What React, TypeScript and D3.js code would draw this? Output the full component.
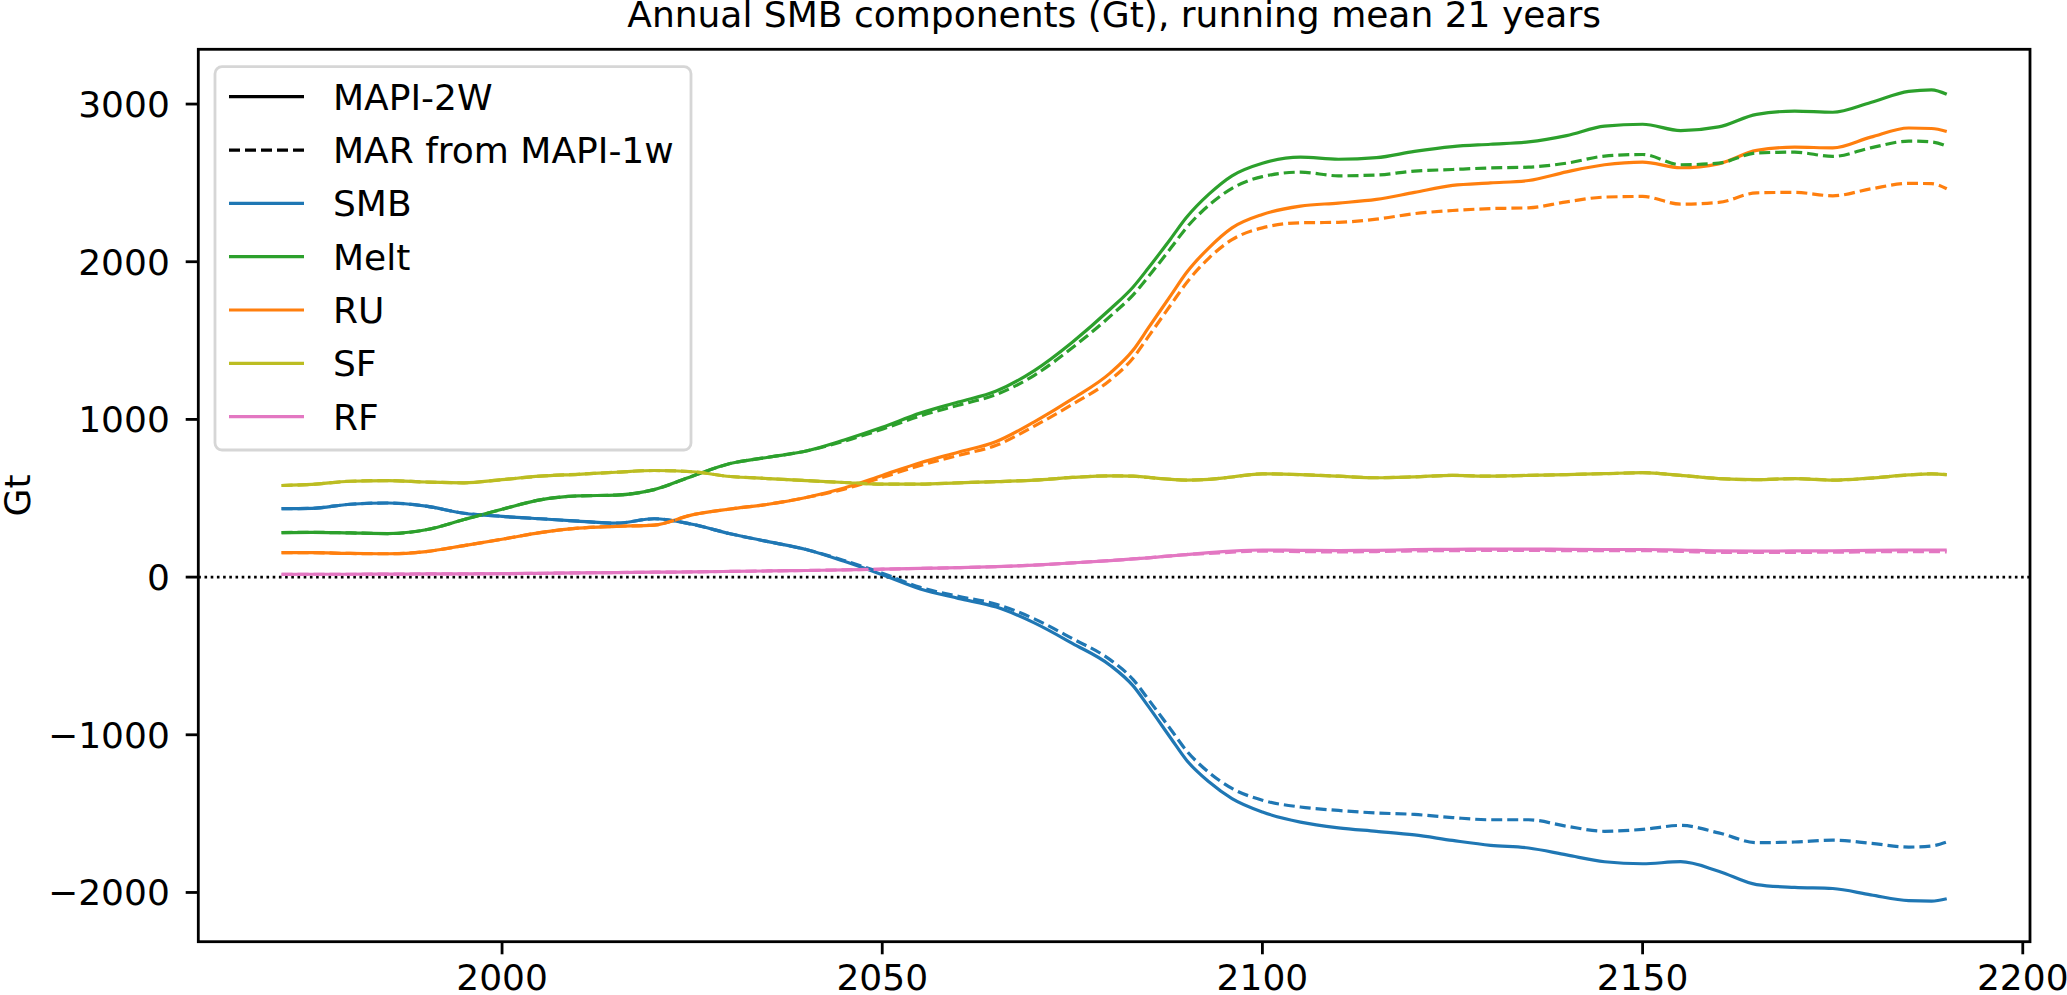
import { useEffect, useRef } from "react";
import * as d3 from "d3";

// years of the 21-year running mean
const years = [
    1971, 1975, 1980, 1985, 1990, 1995, 2000, 2005, 2010, 2015, 2020, 2025,
    2030, 2035, 2040, 2045, 2050, 2055, 2060, 2065, 2070, 2075, 2080, 2083,
    2085, 2088, 2090, 2093, 2096, 2100, 2105, 2110, 2115, 2120, 2125, 2130,
    2135, 2140, 2145, 2150, 2155, 2160, 2165, 2170, 2175, 2180, 2185, 2188,
    2190,
];

// MAPI-2W (solid)
const smb2w = [
    434, 436, 462, 470, 450, 405, 385, 370, 355, 342, 370, 335, 275, 225, 175,
    100, 15, -75, -135, -190, -290, -420, -560, -690, -820, -1025, -1160, -1300,
    -1405, -1490, -1554, -1590, -1612, -1635, -1670, -1701, -1718, -1762, -1805,
    -1818, -1805, -1865, -1950, -1968, -1975, -2015, -2052, -2055, -2040,
];
const melt2w = [
    282, 284, 280, 276, 300, 365, 430, 490, 515, 520, 555, 640, 720, 760, 800,
    870, 950, 1040, 1110, 1180, 1310, 1490, 1700, 1840, 1960, 2150, 2280, 2430,
    2545, 2625, 2663, 2650, 2660, 2700, 2730, 2745, 2760, 2800, 2860, 2872, 2832,
    2855, 2935, 2955, 2948, 3010, 3080, 3090, 3062,
];
const ru2w = [
    155, 155, 150, 148, 162, 200, 240, 282, 310, 322, 330, 395, 432, 462, 505,
    565, 645, 725, 792, 860, 985, 1130, 1295, 1440, 1580, 1790, 1930, 2090, 2215,
    2300, 2353, 2372, 2395, 2440, 2484, 2500, 2515, 2570, 2615, 2632, 2596, 2621,
    2706, 2727, 2722, 2790, 2848, 2845, 2826,
];
const sf2w = [
    581, 588, 608, 612, 603, 598, 618, 640, 652, 665, 676, 668, 638, 625, 612,
    600, 590, 590, 598, 605, 615, 632, 642, 640, 632, 620, 615, 620, 635, 655,
    650, 640, 630, 636, 645, 640, 645, 650, 656, 662, 645, 625, 618, 625, 615,
    628, 648, 655, 650,
];
const rf2w = [
    17, 18, 18, 19, 20, 21, 22, 24, 27, 29, 31, 33, 36, 39, 42, 46, 50, 55, 60,
    66, 76, 90, 105, 115, 122, 135, 143, 155, 165, 172, 170, 168, 170, 174, 176,
    178, 178, 176, 175, 175, 172, 166, 165, 166, 167, 170, 172, 172, 172,
];

// MAR from MAPI-1w (dashed)
const smb1w = [
    434, 436, 462, 470, 450, 405, 385, 370, 355, 342, 370, 335, 275, 225, 175,
    105, 25, -65, -122, -172, -265, -390, -525, -650, -775, -970, -1100, -1240,
    -1340, -1415, -1458, -1480, -1496, -1505, -1525, -1539, -1539, -1580, -1612,
    -1600, -1575, -1622, -1684, -1680, -1668, -1688, -1712, -1705, -1680,
];
const melt1w = [
    282, 284, 280, 276, 300, 365, 430, 490, 515, 520, 555, 640, 720, 760, 800,
    862, 938, 1022, 1090, 1158, 1280, 1455, 1655, 1790, 1905, 2090, 2215, 2360,
    2465, 2540, 2568, 2545, 2550, 2575, 2585, 2595, 2600, 2625, 2670, 2680, 2615,
    2625, 2690, 2695, 2668, 2722, 2765, 2760, 2733,
];
const ru1w = [
    155, 155, 150, 148, 162, 200, 240, 282, 310, 322, 330, 395, 432, 462, 505,
    558, 632, 708, 772, 836, 958, 1095, 1250, 1390, 1525, 1730, 1865, 2025, 2140,
    2215, 2247, 2250, 2270, 2305, 2325, 2337, 2342, 2380, 2410, 2414, 2365, 2376,
    2437, 2440, 2418, 2462, 2497, 2495, 2463,
];
const sf1w = sf2w;
const rf1w = [
    17, 18, 18, 19, 20, 21, 22, 24, 27, 29, 31, 33, 36, 39, 42, 46, 50, 55, 60,
    66, 76, 90, 105, 115, 122, 135, 143, 150, 158, 165, 162, 160, 162, 166, 168,
    170, 170, 168, 168, 168, 163, 157, 156, 157, 158, 160, 162, 162, 160,
];

const componentNames = ["SMB", "Melt", "RU", "SF", "RF"];
const solidValues = [smb2w, melt2w, ru2w, sf2w, rf2w];
const dashedValues = [smb1w, melt1w, ru1w, sf1w, rf1w];
const componentColors = ["#1f77b4", "#2ca02c", "#ff7f0e", "#bcbd22", "#e377c2"];

const xTicks = [2000, 2050, 2100, 2150, 2200];
const yTicks = [-2000, -1000, 0, 1000, 2000, 3000];

const fmt = (v: number) => (v < 0 ? "\u2212" + Math.abs(v) : String(v));

export default function App() {
    const svgRef = useRef<SVGSVGElement>(null);

    useEffect(() => {
        document.body.style.margin = "0";
        if (!svgRef.current) return;

        const width = 2067;
        const height = 995;
        const left = 198.3;
        const right = 2030;
        const top = 49.3;
        const bottom = 941.7;
        const font = "DejaVu Sans, sans-serif";
        const fs = 36;

        const svg = d3.select(svgRef.current);
        svg.selectAll("*").remove();
        svg.attr("width", width).attr("height", height);

        svg.append("rect")
            .attr("width", width)
            .attr("height", height)
            .attr("fill", "#fff");

        // matplotlib-like 5% margins
        const [x0, x1] = d3.extent(years) as [number, number];
        const all = [...solidValues, ...dashedValues].flat();
        const [y0, y1] = d3.extent(all) as [number, number];
        const xm = (x1 - x0) * 0.05;
        const ym = (y1 - y0) * 0.05;

        const x = d3.scaleLinear().domain([x0 - xm, x1 + xm]).range([left, right]);
        const y = d3.scaleLinear().domain([y0 - ym, y1 + ym]).range([bottom, top]);

        svg.append("clipPath")
            .attr("id", "plot-clip")
            .append("rect")
            .attr("x", left)
            .attr("y", top)
            .attr("width", right - left)
            .attr("height", bottom - top);

        const plot = svg.append("g").attr("clip-path", "url(#plot-clip)");

        // zero line
        plot.append("line")
            .attr("x1", left)
            .attr("x2", right)
            .attr("y1", y(0))
            .attr("y2", y(0))
            .attr("stroke", "#000")
            .attr("stroke-width", 2.6)
            .attr("stroke-dasharray", "2.6,3.6");

        const line = d3
            .line<number>()
            .x((_, i) => x(years[i]))
            .y((d) => y(d))
            .curve(d3.curveMonotoneX);

        componentNames.forEach((_, k) => {
            plot.append("path")
                .attr("d", line(solidValues[k]))
                .attr("fill", "none")
                .attr("stroke", componentColors[k])
                .attr("stroke-width", 3.2);
        });
        componentNames.forEach((_, k) => {
            plot.append("path")
                .attr("d", line(dashedValues[k]))
                .attr("fill", "none")
                .attr("stroke", componentColors[k])
                .attr("stroke-width", 3.2)
                .attr("stroke-dasharray", "11,5");
        });

        // frame
        svg.append("rect")
            .attr("x", left)
            .attr("y", top)
            .attr("width", right - left)
            .attr("height", bottom - top)
            .attr("fill", "none")
            .attr("stroke", "#000")
            .attr("stroke-width", 2.8);

        // x axis
        const xAxis = svg.append("g");
        xTicks.forEach((t) => {
            xAxis.append("line")
                .attr("x1", x(t))
                .attr("x2", x(t))
                .attr("y1", bottom)
                .attr("y2", bottom + 12.6)
                .attr("stroke", "#000")
                .attr("stroke-width", 2.8);
            xAxis.append("text")
                .attr("x", x(t))
                .attr("y", 990)
                .attr("text-anchor", "middle")
                .attr("font-family", font)
                .attr("font-size", fs)
                .text(fmt(t));
        });

        // y axis
        const yAxis = svg.append("g");
        yTicks.forEach((t) => {
            yAxis.append("line")
                .attr("x1", left - 12.6)
                .attr("x2", left)
                .attr("y1", y(t))
                .attr("y2", y(t))
                .attr("stroke", "#000")
                .attr("stroke-width", 2.8);
            yAxis.append("text")
                .attr("x", left - 28.5)
                .attr("y", y(t))
                .attr("dy", "0.36em")
                .attr("text-anchor", "end")
                .attr("font-family", font)
                .attr("font-size", fs)
                .text(fmt(t));
        });

        svg.append("text")
            .attr("transform", `translate(30,${(top + bottom) / 2}) rotate(-90)`)
            .attr("text-anchor", "middle")
            .attr("font-family", font)
            .attr("font-size", fs)
            .text("Gt");

        svg.append("text")
            .attr("x", (left + right) / 2)
            .attr("y", 27)
            .attr("text-anchor", "middle")
            .attr("font-family", font)
            .attr("font-size", fs)
            .text("Annual SMB components (Gt), running mean 21 years");

        // legend
        const legend = svg.append("g");
        legend.append("rect")
            .attr("x", 215)
            .attr("y", 66.7)
            .attr("width", 476)
            .attr("height", 383.3)
            .attr("rx", 7)
            .attr("fill", "#fff")
            .attr("fill-opacity", 0.8)
            .attr("stroke", "#d6d6d6")
            .attr("stroke-width", 2.8);

        const entries = [
            { label: "MAPI-2W", color: "#000", dash: null as string | null },
            { label: "MAR from MAPI-1w", color: "#000", dash: "11,5" },
            ...componentNames.map((n, k) => ({
                label: n,
                color: componentColors[k],
                dash: null as string | null,
            })),
        ];

        entries.forEach((e, i) => {
            const cy = 96.7 + i * 53.33;
            const h = legend.append("line")
                .attr("x1", 229)
                .attr("x2", 304)
                .attr("y1", cy)
                .attr("y2", cy)
                .attr("stroke", e.color)
                .attr("stroke-width", 3.2);
            if (e.dash) h.attr("stroke-dasharray", e.dash);
            legend.append("text")
                .attr("x", 333)
                .attr("y", cy)
                .attr("dy", "0.36em")
                .attr("font-family", font)
                .attr("font-size", fs)
                .text(e.label);
        });
    }, []);

    return <svg ref={svgRef} style={{ display: "block" }}></svg>;
}
